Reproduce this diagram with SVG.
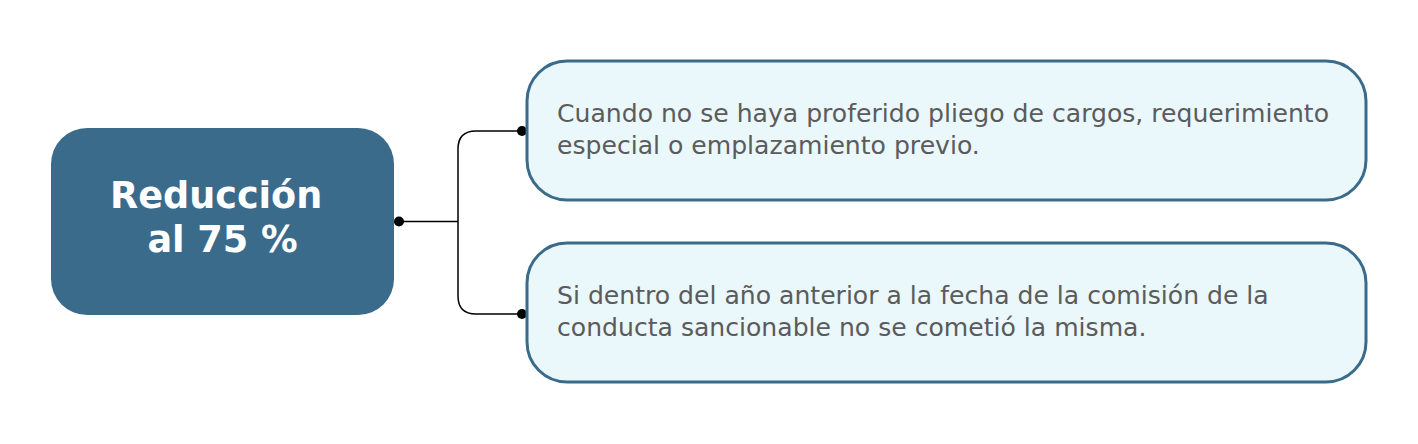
<svg xmlns="http://www.w3.org/2000/svg" width="1418" height="444" viewBox="0 0 1418 444">
<style>
.main{fill:#3a6b8b}
.sub{fill:#eaf7fb;stroke:#3a6b8b;stroke-width:3}
.t1{font-family:"DejaVu Sans",sans-serif;font-weight:bold;font-size:36.6px;fill:#ffffff}
.t2{font-family:"DejaVu Sans",sans-serif;font-size:25.1px;fill:#5b5b5b}
.conn{fill:none;stroke:#000;stroke-width:1.5}
.dot{fill:#000}
</style>
<rect width="1418" height="444" fill="#ffffff"/>
<g id="connectors">
<path class="conn" d="M399 221.5 H458 M522 131 H476 Q458 131 458 149 V296 Q458 314 476 314 H522"/>
<circle class="dot" cx="399" cy="221.5" r="5"/>
<circle class="dot" cx="522" cy="131" r="5"/>
<circle class="dot" cx="522" cy="314" r="5"/>
</g>
<g id="node-main">
<rect class="main" x="51" y="128" width="343" height="187" rx="36"/>
<text class="t1" x="110" y="208">Reducción</text>
<text class="t1" x="222.5" y="252" text-anchor="middle">al 75 %</text>
</g>
<g id="node-1">
<rect class="sub" x="527" y="61" width="839" height="139" rx="40"/>
<text class="t2" x="557" y="122">Cuando no se haya proferido pliego de cargos, requerimiento</text>
<text class="t2" x="557" y="153.5">especial o emplazamiento previo.</text>
</g>
<g id="node-2">
<rect class="sub" x="527" y="243" width="839" height="139" rx="40"/>
<text class="t2" x="557" y="304">Si dentro del año anterior a la fecha de la comisión de la</text>
<text class="t2" x="557" y="335.5">conducta sancionable no se cometió la misma.</text>
</g>
</svg>
